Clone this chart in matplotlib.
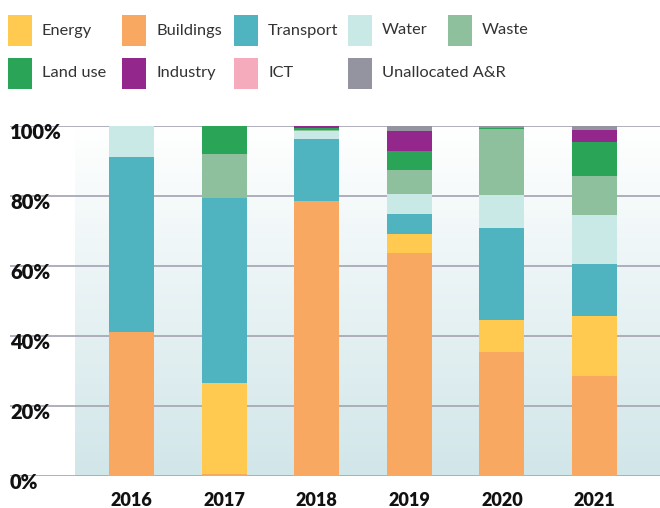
import numpy as np
import matplotlib.pyplot as plt
from matplotlib.patches import Rectangle

plt.rcParams['font.family'] = ['Lato', 'DejaVu Sans']

years = ['2016', '2017', '2018', '2019', '2020', '2021']

# share of each sector per year (%), stacked bottom to top
buildings = [41.1, 0.5, 78.6, 63.7, 35.4, 28.6]
energy = [0.0, 26.1, 0.0, 5.4, 9.2, 17.1]
transport = [50.0, 52.8, 17.7, 5.8, 26.3, 14.9]
water = [8.9, 0.0, 2.3, 5.7, 9.4, 14.0]
waste = [0.0, 12.6, 0.4, 6.8, 18.9, 11.1]
land_use = [0.0, 8.0, 0.4, 5.5, 0.3, 9.7]
industry = [0.0, 0.0, 0.6, 5.7, 0.0, 3.5]
ict = [0.0, 0.0, 0.0, 0.0, 0.0, 0.0]
unallocated = [0.0, 0.0, 0.0, 1.4, 0.5, 1.1]

stack = [
    ('Buildings', buildings, '#F9A862'),
    ('Energy', energy, '#FFCA4F'),
    ('Transport', transport, '#4FB4C0'),
    ('Water', water, '#C9E9E6'),
    ('Waste', waste, '#8FC09D'),
    ('Land use', land_use, '#2AA457'),
    ('Industry', industry, '#93278B'),
    ('ICT', ict, '#F5ABBB'),
    ('Unallocated A&R', unallocated, '#9494A0'),
]

# legend layout as in the source: two rows, five columns
legend_rows = [
    ['Energy', 'Buildings', 'Transport', 'Water', 'Waste'],
    ['Land use', 'Industry', 'ICT', 'Unallocated A&R'],
]
legend_x = [8, 122, 234, 348, 448]

W, H = 660, 508
fig = plt.figure(figsize=(W / 100, H / 100), dpi=100)

# axes spans x 10..660 px, y 126..476 px
x0 = 131.5
step = 92.6
ax = fig.add_axes([10 / W, 32 / H, 650 / W, 350 / H])
xlo = (10 - x0) / step
xhi = (660 - x0) / step
ax.set_xlim(xlo, xhi)
ax.set_ylim(0, 100)

# gradient panel behind the bars
grad = np.linspace(0, 1, 256).reshape(-1, 1)
top = np.array([1.0, 1.0, 1.0])
bot = np.array([209, 230, 233]) / 255
img = bot + (top - bot) * grad[..., None]
bg_left = (75 - x0) / step
ax.imshow(img, extent=[bg_left, xhi, 0, 100], origin='lower',
          aspect='auto', zorder=0, interpolation='bilinear')

ticks = [0, 20, 40, 60, 80, 100]
for t in ticks:
    ax.axhline(t, color='#A9A9B6', lw=2.0 if t == 0 else 1.3, zorder=1)

x = np.arange(len(years))
bottom = np.zeros(len(years))
for name, vals, col in stack:
    vals = np.array(vals)
    ax.bar(x, vals, 0.486, bottom=bottom, color=col, zorder=2, linewidth=0)
    bottom += vals

for xi, yr in zip(x, years):
    ax.text(xi, -4.5, yr, ha='center', va='top', fontsize=13,
            fontweight='heavy', color='#111111')

for t in ticks:
    ax.text(0, t - 1.9, f'{t}%', transform=ax.get_yaxis_transform(),
            ha='left', va='center', fontsize=14.5, fontweight='heavy',
            color='#111111', zorder=5)

for s in ax.spines.values():
    s.set_visible(False)
ax.set_xticks([])
ax.set_yticks([])

colors = {name: col for name, _, col in stack}
row_y = [30.5, 73]
for r, row in enumerate(legend_rows):
    for c, name in enumerate(row):
        px = legend_x[c]
        py = row_y[r]
        fig.add_artist(Rectangle((px / W, 1 - (py + 15.5) / H), 24 / W, 31 / H,
                                 transform=fig.transFigure,
                                 color=colors[name], lw=0))
        fig.text((px + 34) / W, 1 - py / H, name, ha='left', va='center',
                 fontsize=11.8, color='#333333')

fig.savefig('out.png', dpi=100)
